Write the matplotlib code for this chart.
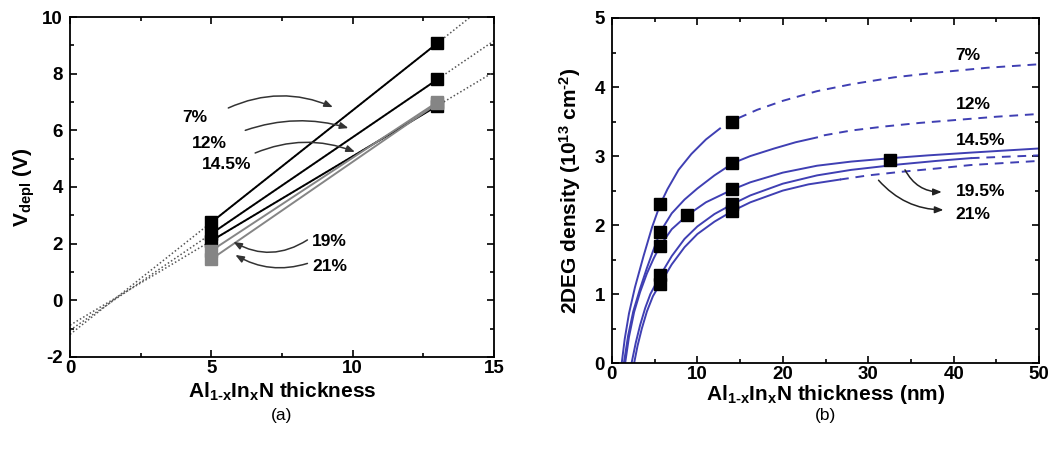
import numpy as np
import matplotlib
matplotlib.use('Agg')
import matplotlib.pyplot as plt
from matplotlib.ticker import MultipleLocator

plt.rcParams['font.family'] = ['Liberation Sans', 'DejaVu Sans']
plt.rcParams['font.weight'] = 'bold'
plt.rcParams['axes.labelweight'] = 'bold'
plt.rcParams['axes.unicode_minus'] = False
plt.rcParams['mathtext.fontset'] = 'custom'
plt.rcParams['mathtext.rm'] = 'Liberation Sans:bold'
plt.rcParams['mathtext.it'] = 'Liberation Sans:bold'
plt.rcParams['mathtext.bf'] = 'Liberation Sans:bold'

# ---- panel (a): depletion voltage vs thickness ----
thick_a = [5, 13]
vdepl = {
    '7%':    [2.75, 9.08],
    '12%':   [2.35, 7.80],
    '14.5%': [2.10, 6.87],
    '19%':   [1.75, 7.00],
    '21%':   [1.45, 6.95],
}
gray_series = ['19%', '21%']
dotted_series = ['7%', '12%', '14.5%']

# ---- panel (b): 2DEG density vs thickness ----
c7_x = [1.15, 1.5, 2.0, 2.7, 3.7, 4.7, 5.65, 6.5, 7.8, 9.3, 11.0, 12.65]
c7_y = [0.0, 0.35, 0.72, 1.10, 1.55, 1.97, 2.30, 2.52, 2.80, 3.03, 3.24, 3.40]
c7d_x = [14.8, 17, 20, 24, 28, 33, 38, 44, 50]
c7d_y = [3.55, 3.67, 3.80, 3.94, 4.04, 4.14, 4.21, 4.28, 4.33]

c12_x = [1.4, 1.9, 2.5, 3.3, 4.1, 4.8, 5.65, 7.0, 8.5, 10, 12, 14.2, 16.2, 19, 21.5, 24.0]
c12_y = [0.0, 0.40, 0.75, 1.08, 1.38, 1.62, 1.90, 2.17, 2.37, 2.53, 2.72, 2.90, 3.00, 3.11, 3.20, 3.27]
c12d_x = [24.8, 28, 32, 36, 40, 45, 50]
c12d_y = [3.30, 3.37, 3.43, 3.48, 3.52, 3.57, 3.61]

c145_x = [1.55, 2.0, 2.6, 3.3, 4.1, 4.9, 5.65, 7.0, 8.8, 11, 14.2, 16.2, 20, 24, 28, 32.7, 37, 42, 46, 50]
c145_y = [0.0, 0.38, 0.74, 1.03, 1.30, 1.52, 1.70, 1.94, 2.14, 2.33, 2.52, 2.62, 2.76, 2.86, 2.92, 2.97, 3.01, 3.05, 3.08, 3.11]

c195_x = [2.3, 2.8, 3.3, 3.9, 4.5, 5.65, 7.0, 8.5, 10, 12, 14.2, 16.2, 20, 24, 28, 33.7, 38, 42]
c195_y = [0.0, 0.30, 0.55, 0.80, 1.00, 1.27, 1.55, 1.80, 1.98, 2.16, 2.31, 2.43, 2.60, 2.72, 2.80, 2.88, 2.93, 2.97]
c195d_x = [42, 46, 50]
c195d_y = [2.97, 2.99, 3.01]

c21_x = [2.6, 3.0, 3.5, 4.1, 4.8, 5.65, 7.0, 8.5, 10, 12, 14.2, 16.2, 20, 23, 26.7]
c21_y = [0.0, 0.25, 0.50, 0.75, 0.97, 1.15, 1.43, 1.68, 1.87, 2.05, 2.21, 2.33, 2.50, 2.59, 2.66]
c21d_x = [26.7, 30, 33.7, 38, 42, 46, 50]
c21d_y = [2.66, 2.72, 2.77, 2.82, 2.87, 2.90, 2.93]

meas_x = [5.65, 5.65, 5.65, 5.65, 5.65, 8.8, 14.1, 14.1, 14.1, 14.1, 14.1, 32.6]
meas_y = [2.30, 1.90, 1.70, 1.27, 1.15, 2.14, 3.50, 2.90, 2.52, 2.31, 2.21, 2.95]

blue = '#3f3fb3'
gray = '#858585'

fig = plt.figure(figsize=(10.55, 4.5), dpi=100)
ax1 = fig.add_axes([0.0664, 0.207, 0.4018, 0.755])
ax2 = fig.add_axes([0.580, 0.193, 0.405, 0.767])

# panel (a)
for name in dotted_series:
    v = vdepl[name]
    slope = (v[1] - v[0]) / (thick_a[1] - thick_a[0])
    xs = np.array([0, 15])
    ax1.plot(xs, v[0] + slope * (xs - thick_a[0]), ls=(0, (1, 1.5)), color='#555555', lw=1.1)
for name, v in vdepl.items():
    c = gray if name in gray_series else 'black'
    ax1.plot(thick_a, v, '-s', color=c, lw=1.4, ms=9, mfc=c, mec=c)

ax1.set_xlim(0, 15)
ax1.set_ylim(-2, 10)
ax1.xaxis.set_major_locator(MultipleLocator(5))
ax1.xaxis.set_minor_locator(MultipleLocator(2.5))
ax1.yaxis.set_major_locator(MultipleLocator(2))
ax1.yaxis.set_minor_locator(MultipleLocator(1))
ax1.set_xlabel(r'Al$_{\text{1-x}}$In$_{\text{x}}$N thickness', fontsize=15, labelpad=3)
ax1.set_ylabel(r'V$_{\text{depl}}$ (V)', fontsize=15, labelpad=4)

labels_a = {'7%': (3.96, 6.45), '12%': (4.32, 5.55), '14.5%': (4.67, 4.78),
            '19%': (8.56, 2.06), '21%': (8.56, 1.18)}
for t, (x, y) in labels_a.items():
    ax1.text(x, y, t, fontsize=12.5, fontweight='bold', ha='left', va='center')

arrows_a = [((5.6, 6.79), (9.3, 6.82), -0.22),
            ((6.2, 6.00), (9.85, 6.08), -0.16),
            ((6.55, 5.20), (10.08, 5.24), -0.2),
            ((8.4, 2.13), (5.78, 2.06), -0.3),
            ((8.4, 1.30), (5.85, 1.60), -0.22)]
for start, end, rad in arrows_a:
    ax1.annotate('', xy=end, xytext=start,
                 arrowprops=dict(arrowstyle='-|>,head_length=0.5,head_width=0.2',
                                 color='#333333', lw=1.1,
                                 connectionstyle='arc3,rad=%s' % rad,
                                 shrinkA=0, shrinkB=0))

# panel (b)
for x, y in [(c7_x, c7_y), (c12_x, c12_y), (c145_x, c145_y), (c195_x, c195_y), (c21_x, c21_y)]:
    ax2.plot(x, y, '-', color=blue, lw=1.4)
for x, y in [(c7d_x, c7d_y), (c12d_x, c12d_y), (c195d_x, c195d_y), (c21d_x, c21d_y)]:
    ax2.plot(x, y, color=blue, lw=1.4, ls=(0, (4.5, 3.5)))
ax2.plot(meas_x, meas_y, 's', color='black', ms=8.5, ls='none')

ax2.set_xlim(0, 50)
ax2.set_ylim(0, 5)
ax2.xaxis.set_major_locator(MultipleLocator(10))
ax2.xaxis.set_minor_locator(MultipleLocator(5))
ax2.yaxis.set_major_locator(MultipleLocator(1))
ax2.yaxis.set_minor_locator(MultipleLocator(0.5))
ax2.set_xlabel(r'Al$_{\text{1-x}}$In$_{\text{x}}$N thickness (nm)', fontsize=15, labelpad=0)
ax2.set_ylabel(r'2DEG density (10$^{13}$ cm$^{\text{-2}}$)', fontsize=15, labelpad=8)

labels_b = {'7%': (40.2, 4.46), '12%': (40.2, 3.74), '14.5%': (40.2, 3.22),
            '19.5%': (40.2, 2.49), '21%': (40.2, 2.16)}
for t, (x, y) in labels_b.items():
    ax2.text(x, y, t, fontsize=12.5, fontweight='bold', ha='left', va='center')

arrows_b = [((34.3, 2.80), (38.6, 2.48), 0.3),
            ((31.2, 2.65), (38.8, 2.22), 0.22)]
for start, end, rad in arrows_b:
    ax2.annotate('', xy=end, xytext=start,
                 arrowprops=dict(arrowstyle='-|>,head_length=0.5,head_width=0.2',
                                 color='#222222', lw=1.1,
                                 connectionstyle='arc3,rad=%s' % rad,
                                 shrinkA=0, shrinkB=0))

for ax in (ax1, ax2):
    for s in ax.spines.values():
        s.set_linewidth(1.3)
    ax.tick_params(which='both', direction='in', top=True, right=True, width=1.2)
    ax.tick_params(which='major', length=5, labelsize=13.5)
    ax.tick_params(which='minor', length=3)
    ax.tick_params(axis='x', pad=2)
    ax.tick_params(axis='y', pad=5)
    for lab in ax.get_xticklabels() + ax.get_yticklabels():
        lab.set_fontweight('bold')

fig.text(0.267, 0.076, '(a)', fontsize=12.5, fontweight='normal', ha='center', va='center')
fig.text(0.782, 0.076, '(b)', fontsize=12.5, fontweight='normal', ha='center', va='center')

fig.savefig('out.png', dpi=100)
